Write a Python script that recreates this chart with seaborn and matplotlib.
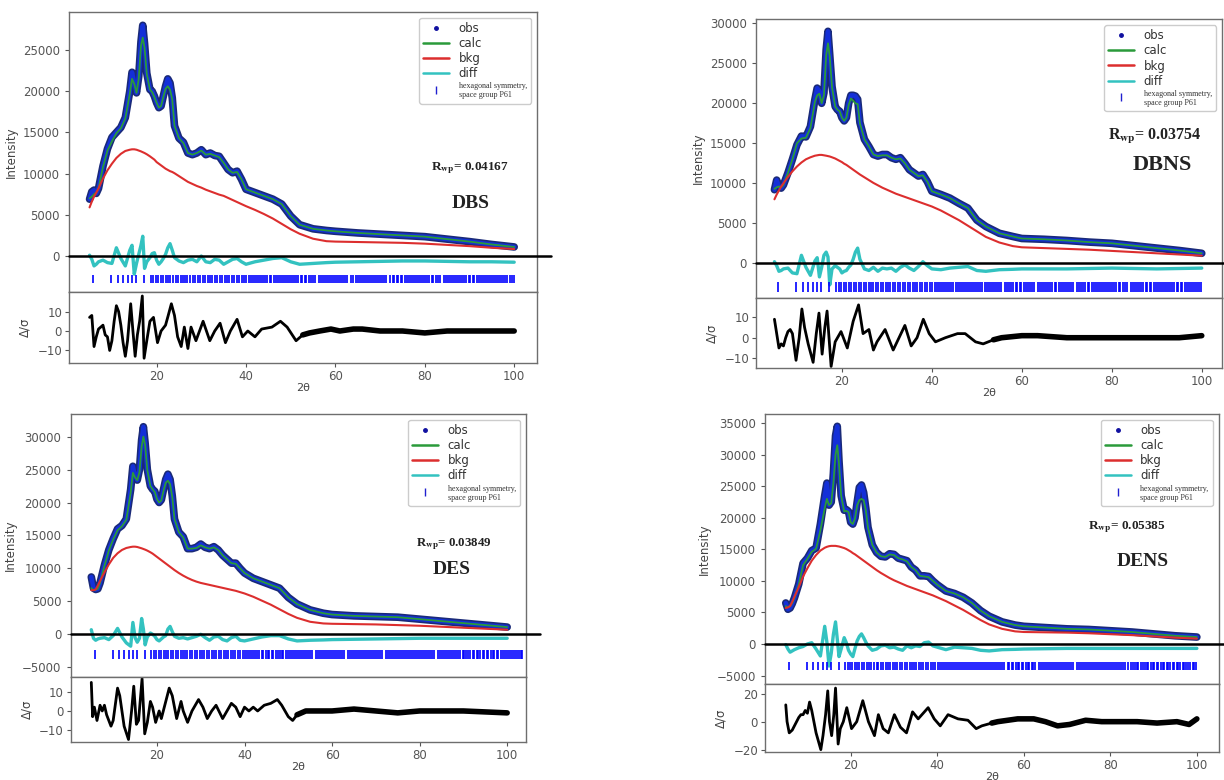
import numpy as np
import pandas as pd
import seaborn as sns
import matplotlib.pyplot as plt
from matplotlib.lines import Line2D

sns.set_style("ticks", {"axes.edgecolor": "#6e6e6e", "xtick.color": "#555555",
                        "ytick.color": "#555555", "text.color": "#333333",
                        "axes.labelcolor": "#444444"})
plt.rcParams['font.family'] = ['DejaVu Sans']
plt.rcParams['mathtext.fontset'] = 'stix'

#%%
# 2-theta grid of the pattern (shared by the four samples)
tt = [5, 5.5, 6, 6.5, 7, 8, 9, 10, 11, 12, 13, 14, 14.5, 15, 15.5, 16, 16.5, 16.9, 17.3, 17.8,
      18.5, 19, 19.5, 20, 20.5, 21, 21.5, 22, 22.5, 23, 23.5, 24, 25, 26, 27, 28, 29, 30, 31, 32,
      33, 34, 35, 36, 37, 38, 39, 40, 42, 44, 46, 48, 50, 52, 55, 58, 60, 65, 70, 75, 80, 85,
      90, 95, 100]

# DBS
dbs_obs = [6900, 7800, 8000, 7600, 8200, 10900, 13000, 14400, 15000, 15600, 16800, 20000, 22300,
           21000, 19800, 21800, 26000, 28000, 25800, 22200, 20200, 20000, 19400, 18600, 18000,
           18200, 19400, 20600, 21500, 21000, 19200, 15800, 14300, 13800, 12500, 12300, 12500,
           12900, 12300, 12500, 12200, 12100, 11300, 10500, 10100, 10300, 9300, 8100, 7700, 7300,
           6900, 6300, 4850, 3800, 3300, 3100, 3000, 2800, 2650, 2500, 2350, 2050, 1750, 1400, 1100]
dbs_calc = [7000, 7200, 7500, 7700, 8200, 10800, 12800, 13900, 14900, 15500, 16700, 19700, 21500,
            20900, 19800, 21500, 25500, 26500, 25300, 22100, 20200, 19900, 19300, 18600, 18000,
            18200, 19300, 20300, 20600, 20200, 19000, 15800, 14300, 13700, 12500, 12300, 12500,
            12800, 12300, 12400, 12200, 12000, 11300, 10500, 10100, 10200, 9300, 8100, 7700, 7300,
            6900, 6300, 4850, 3800, 3300, 3100, 3000, 2800, 2650, 2500, 2350, 2050, 1750, 1400, 1100]
dbs_bkg = [5900, 6600, 7200, 7700, 8200, 9400, 10400, 11200, 11900, 12400, 12750, 12900, 12950,
           12950, 12900, 12800, 12700, 12600, 12500, 12350, 12100, 11900, 11700, 11400, 11200,
           11000, 10800, 10600, 10450, 10300, 10200, 10050, 9700, 9350, 9000, 8750, 8500, 8300,
           8050, 7850, 7650, 7450, 7300, 7050, 6800, 6550, 6300, 6050, 5600, 5100, 4550, 3900,
           3250, 2700, 2100, 1800, 1750, 1700, 1650, 1600, 1500, 1350, 1200, 1000, 850]
dbs_diff = [100, -400, -1200, -1000, -700, -500, -800, -900, 1000, -300, -1200, 700, 1300, -2200,
            -900, 200, 1300, 2400, -1500, -700, -200, 300, 400, -500, -1000, -700, -300, 200, 1000,
            1500, 700, -200, -600, -800, -500, -400, -700, 0, -700, -800, -400, -500, -1000, -700,
            -400, -300, -700, -1000, -700, -500, -300, -200, -700, -1000, -900, -800, -750, -700,
            -650, -600, -600, -650, -700, -700, -750]
dbs_res_x = [5, 5.5, 6, 6.5, 7, 7.5, 8, 8.5, 9, 9.5, 10, 10.5, 11, 11.5, 12, 12.5, 13, 13.5, 14.2,
             14.7, 15.2, 15.7, 16.2, 16.8, 17.2, 17.8, 18.5, 19.3, 20.2, 21, 22, 22.6, 23.3, 24,
             24.7, 25.5, 26.2, 27, 27.7, 28.8, 30.4, 31.9, 33, 34.2, 35.4, 36.5, 38, 39.2, 40.4,
             42, 43.5, 45.8, 47.7, 49.2, 51.2, 52.7, 54.2, 56.5, 59, 61, 64, 66, 70, 75, 80, 85,
             90, 95, 100]
dbs_res = [7, 8, -8, -3, 1, 2, 3, -2, -3, -10, -5, 5, 13, 10, 3, -6, -13, -5, 14, 0, -13, -2, 5,
           18, -14, -5, 5, 7, -6, 0, 3, 8, 14, 8, -3, -8, 2, -9, 2, -5, 5, -5, 0, 4, -6, 0, 6, -3,
           0, -3, 1, 2, 5, 2, -5, -2, -1, 0, 1, 0, 1, 1, 0, 0, -1, 0, 0, 0, 0]

# DBNS
dbns_obs = [9200, 10400, 9600, 9400, 9800, 11300, 13000, 14800, 15900, 15800, 17100, 20500, 21900,
            21500, 20000, 21300, 26700, 29000, 26000, 22100, 19600, 19200, 19000, 18200, 17800,
            18200, 20000, 21000, 21000, 20900, 20500, 17600, 15500, 14600, 13600, 13400, 13600,
            13600, 13200, 13000, 13200, 12500, 11700, 11300, 10900, 11100, 10200, 9000, 8600, 8150,
            7500, 6900, 5400, 4600, 3750, 3350, 3100, 3000, 2850, 2650, 2500, 2200, 1900, 1600, 1250]
dbns_calc = [9300, 9500, 9600, 9500, 9800, 11300, 13000, 15000, 15600, 15700, 16900, 20200, 21000,
             21200, 20000, 21000, 26000, 27500, 25800, 22000, 19600, 19200, 19000, 18200, 17800,
             18200, 19800, 20600, 20300, 20000, 19900, 17500, 15500, 14600, 13600, 13400, 13500,
             13500, 13200, 13000, 13100, 12500, 11700, 11300, 10900, 11000, 10200, 9000, 8600, 8150,
             7500, 6900, 5400, 4600, 3750, 3350, 3100, 3000, 2850, 2650, 2500, 2200, 1900, 1600, 1250]
dbns_bkg = [8000, 8600, 9100, 9600, 10000, 10800, 11500, 12100, 12600, 13000, 13250, 13450, 13500,
            13550, 13550, 13500, 13450, 13400, 13350, 13250, 13100, 12950, 12800, 12650, 12450,
            12300, 12100, 11900, 11700, 11500, 11300, 11100, 10750, 10400, 10050, 9750, 9450, 9200,
            8950, 8700, 8500, 8300, 8100, 7900, 7700, 7500, 7300, 7100, 6600, 6000, 5400, 4700,
            4000, 3300, 2600, 2150, 2000, 1900, 1800, 1700, 1550, 1400, 1250, 1100, 950]
dbns_diff = [200, -300, -1000, -900, -700, -600, -1200, -1300, 1000, -500, -1500, 300, 700, -1700,
             -500, 1000, 1400, 800, -2700, -700, -300, -500, -700, -1200, -1000, -900, -500, -200,
             500, 1400, 1900, 500, -700, -900, -500, -1000, -600, -700, -600, -1000, -500, -200,
             -600, -900, -400, 200, -300, -700, -800, -600, -500, -400, -900, -1000, -800, -750,
             -700, -700, -700, -650, -600, -650, -700, -650, -600]
dbns_res_x = [5, 5.5, 6, 6.5, 7, 7.5, 8, 8.5, 9, 9.8, 10.5, 11.1, 11.7, 12.5, 13.6, 14.3, 14.9,
              15.6, 16.2, 16.7, 17.6, 18.5, 19.8, 21.2, 22.5, 23.7, 24.7, 26, 27, 27.8, 29.6, 31.4,
              32.7, 34, 35.4, 36.7, 38.1, 39.4, 40.8, 43, 45.7, 47.4, 49.7, 51.4, 53.7, 55.5, 60,
              63.5, 70, 75, 80, 85, 90, 95, 100]
dbns_res = [9, 2, -5, -3, -4, 0, 3, 4, 2, -11, 0, 14, 5, -3, -12, 2, 12, -8, 5, 13, -14, -2, 3,
            -5, 8, 16, 2, 4, -6, -2, 4, -6, 0, 6, -4, 0, 9, 2, -2, 0, 2, 2, -2, -3, -1, 0, 1, 1,
            0, 0, 0, 0, 0, 0, 1]

# DES
des_obs = [8700, 7000, 6800, 6900, 7800, 10500, 12800, 14500, 16000, 16500, 17500, 22000, 25500,
           24000, 23400, 25000, 29500, 31500, 29000, 25000, 22500, 22000, 21700, 20500, 20000,
           20400, 22000, 23500, 24300, 23500, 21000, 17500, 15500, 14800, 13000, 13000, 13200,
           13700, 13200, 13000, 13300, 12800, 12000, 11400, 10800, 10800, 10000, 9300, 8500, 8000,
           7500, 7000, 5600, 4600, 3700, 3200, 3000, 2800, 2700, 2600, 2300, 2000, 1700, 1400, 1100]
des_calc = [7000, 6700, 6800, 6900, 7800, 10400, 12700, 14400, 15800, 16400, 17400, 21500, 24500,
            23800, 23400, 24600, 28500, 30000, 28700, 24900, 22500, 22000, 21600, 20500, 20000,
            20300, 21800, 23000, 23300, 22800, 20800, 17500, 15500, 14700, 13000, 13000, 13100,
            13500, 13200, 13000, 13200, 12800, 12000, 11400, 10800, 10700, 10000, 9300, 8500, 8000,
            7500, 7000, 5600, 4600, 3700, 3200, 3000, 2800, 2700, 2600, 2300, 2000, 1700, 1400, 1100]
des_bkg = [6700, 6700, 6800, 7400, 8100, 9400, 10600, 11600, 12300, 12800, 13100, 13250, 13300,
           13300, 13250, 13150, 13050, 12950, 12850, 12700, 12450, 12250, 12000, 11750, 11500,
           11250, 11000, 10750, 10500, 10250, 10000, 9750, 9300, 8900, 8550, 8250, 8000, 7800,
           7650, 7500, 7350, 7200, 7050, 6900, 6750, 6600, 6400, 6200, 5700, 5100, 4500, 3800,
           3100, 2500, 1900, 1650, 1600, 1550, 1500, 1400, 1300, 1150, 1000, 850, 700]
des_diff = [700, -600, -900, -700, -600, -500, -800, -200, 900, -400, -1300, -1800, 1800, -500,
            -1200, -600, 2400, 800, -1600, -400, 200, 0, -300, -800, -1000, -700, -400, -200, 800,
            1200, 400, -300, -600, -500, -700, -500, -300, 0, -500, -900, -400, -300, -800, -1000,
            -500, -300, -900, -1000, -700, -400, -200, -200, -700, -1000, -900, -850, -800, -750,
            -700, -650, -600, -600, -600, -600, -600]
des_res_x = [5, 5.3, 5.7, 6.3, 7, 7.5, 8, 8.5, 9.5, 10, 11, 11.5, 12.5, 13.5, 14.2, 14.7, 15.3,
             15.8, 16.6, 17.2, 17.8, 18.5, 19, 19.7, 20.5, 21, 22.8, 23.5, 24.5, 25.5, 26, 27, 28,
             29.5, 30.5, 31.5, 32.5, 33.5, 35, 36, 37, 38, 39, 40, 41, 42, 43, 44.5, 46, 47.5,
             48.5, 50, 51, 52, 54, 56, 60, 65, 70, 75, 80, 90, 100]
des_res = [15, -3, 2, -5, 3, 0, 3, -2, -8, -5, 12, 8, -8, -15, 0, 13, -7, -5, 17, -12, -6, 5, 2,
           -6, 0, -4, 12, 8, -4, 5, 0, -6, 0, 6, 2, -4, 0, 3, -4, 0, 4, 2, -3, 2, 0, 2, 0, 3, 4,
           6, 3, -3, -5, -2, 0, 0, 0, 1, 0, -1, 0, 0, -1]

# DENS
dens_obs = [6500, 5500, 5700, 6400, 7300, 9500, 12800, 13600, 14800, 15200, 19000, 23500, 25500,
            22000, 22500, 27000, 33000, 34500, 29000, 23500, 21200, 21300, 21000, 19300, 19000,
            20000, 22500, 24800, 25200, 24000, 21500, 18500, 15700, 14500, 13900, 13800, 14300,
            14200, 13600, 13400, 13200, 12200, 11700, 10800, 10800, 10700, 10000, 9400, 8400, 8000,
            7400, 6500, 5300, 4400, 3500, 3000, 2800, 2600, 2400, 2300, 2100, 1900, 1600, 1300, 1100]
dens_calc = [6000, 5800, 6000, 6500, 7300, 9400, 12500, 13500, 14600, 15100, 18000, 21500, 23000,
             22000, 22300, 25500, 30000, 31500, 28500, 23500, 21000, 21100, 20900, 19300, 19000,
             19900, 22000, 22800, 23000, 22800, 21200, 18400, 15700, 14500, 13900, 13800, 14200,
             14100, 13600, 13400, 13100, 12200, 11700, 10800, 10700, 10600, 10000, 9400, 8400, 8000,
             7400, 6500, 5300, 4400, 3500, 3000, 2800, 2600, 2400, 2300, 2100, 1900, 1600, 1300, 1100]
dens_bkg = [5700, 5800, 6000, 6700, 7500, 9000, 10700, 12000, 13200, 14100, 14800, 15250, 15400,
            15500, 15550, 15550, 15550, 15500, 15450, 15350, 15200, 15050, 14850, 14650, 14400,
            14200, 13950, 13700, 13450, 13200, 12950, 12700, 12200, 11700, 11250, 10850, 10450,
            10100, 9800, 9500, 9200, 8950, 8700, 8450, 8200, 7950, 7700, 7400, 6800, 6100, 5400,
            4600, 3800, 3100, 2400, 2000, 1900, 1850, 1800, 1700, 1550, 1400, 1200, 1000, 850]
dens_diff = [-100, -800, -1300, -1100, -900, -600, -400, 0, 200, -800, -1900, 2800, 300, -3500,
             -1500, 1500, 3500, 800, -2000, -800, 1000, 200, -1000, -1600, -2000, -700, 500, 1200,
             1600, 1000, 300, -300, -1000, -800, -300, -200, -600, -500, -800, -1000, -300, -600,
             -300, -400, 200, 300, -300, -500, -900, -500, -600, -700, -1000, -1100, -900, -850,
             -800, -750, -700, -700, -700, -700, -700, -700, -700]
dens_res_x = [5, 5.3, 5.8, 6.5, 7, 8, 8.5, 9, 9.5, 10, 10.5, 11, 11.5, 12, 13.1, 13.6, 14.2, 14.7,
              15.1, 15.6, 16.1, 16.5, 17.1, 17.6, 18.3, 19.1, 20.2, 21.4, 22.8, 24.1, 25.5, 26.4,
              27.5, 28.7, 30.1, 31.5, 32.9, 34.3, 35.6, 37.9, 39.3, 40.7, 42.5, 44.8, 47.1, 49,
              50.3, 52.6, 54, 58.6, 62.3, 65, 67.8, 70.6, 74.3, 78, 81.6, 86.2, 90.8, 95.4, 98.2, 100]
dens_res = [12, 0, -8, -6, -3, 3, 5, 5, 8, 6, 14, 8, 0, -8, -20, -10, 5, 22, 0, -10, 5, 24, -16,
            -5, 0, 10, -5, 0, 15, 0, -10, 5, -5, -8, 5, -4, -8, 7, 2, 10, 2, -3, 5, 2, 1, -5, -3,
            -1, 0, 2, 2, 0, -3, -2, 1, 0, 0, 0, -1, 0, -2, 2]

# reflection positions, hexagonal P61
refl = [5.8, 9.9, 11.4, 12.5, 13.5, 14.5, 15.4, 17.2, 18.7, 19.3, 19.8, 20.4, 20.9, 21.5, 22.0,
        22.6, 23.1, 23.7, 24.3, 24.8, 25.4, 26.0, 26.4, 26.9, 27.5, 28.1, 28.6, 29.2, 29.8, 30.3,
        30.8, 31.4, 31.9, 32.5, 33.0, 33.6, 34.1, 34.7, 35.2, 35.8, 36.3, 36.8, 37.4, 37.9, 38.5,
        39.0, 39.6, 40.1, 40.6, 41.1, 41.5, 42.0, 42.5, 42.9, 43.4, 43.9, 44.3, 44.8, 45.3, 45.7,
        46.2, 46.6, 47.1, 47.6, 48.0, 48.5, 48.9, 49.4, 49.9, 50.3, 50.8, 51.2, 51.7, 52.2, 52.6,
        53.1, 53.5, 54.0, 54.5, 54.9, 55.4, 56.3, 56.7, 57.2, 57.6, 58.1, 58.6, 59.0, 59.5, 59.9,
        60.4, 60.9, 61.3, 61.8, 62.2, 62.7, 63.6, 64.0, 64.5, 65.0, 65.4, 65.9, 66.3, 66.8, 67.3,
        67.7, 68.2, 68.6, 69.1, 69.6, 70.0, 70.5, 70.9, 71.4, 72.3, 72.8, 73.2, 73.7, 74.1, 74.6,
        75.0, 75.5, 76.0, 76.4, 76.9, 77.3, 77.8, 78.3, 78.7, 79.2, 79.6, 80.1, 80.6, 81.0, 81.5,
        81.9, 82.4, 82.9, 83.3, 84.2, 84.7, 85.2, 85.6, 86.1, 86.5, 87.0, 87.5, 87.9, 88.4, 88.8,
        89.3, 89.8, 90.2, 90.7, 91.1, 91.6, 92.1, 92.5, 93.0, 93.4, 93.9, 94.4, 94.8, 95.3, 95.7,
        96.2, 96.7, 97.1, 97.6, 98.0, 98.5, 99.0, 99.4, 99.9]
refl_des_extra = [100.4, 100.8, 101.3, 101.7, 102.2, 102.6, 103.1, 103.5]

samples = ['DBS', 'DBNS', 'DES', 'DENS']
rwp = ['0.04167', '0.03754', '0.03849', '0.05385']

#%%
W, H = 1224, 780

# layout in pixels of the source picture
layout = {
    'DBS':  dict(x=(69, 537), main=(11.7, 291.7), res=(291.7, 362.7), xlim=(0.4, 105.1),
                 ylim=(-4330, 29650), rlim=(-16.3, 20.2), yt=[0, 5000, 10000, 15000, 20000, 25000],
                 rt=[-10, 0, 10], tick=(-3300, -2300), rwp_xy=(470, 168), name_xy=(471, 204),
                 rwp_fs=9.5, name_fs=14),
    'DBNS': dict(x=(756, 1222), main=(19.3, 297.7), res=(297.7, 368.3), xlim=(0.9, 104.5),
                 ylim=(-4300, 30500), rlim=(-14.9, 19.5),
                 yt=[0, 5000, 10000, 15000, 20000, 25000, 30000], rt=[-10, 0, 10],
                 tick=(-3550, -2300), rwp_xy=(1155, 137), name_xy=(1162, 165),
                 rwp_fs=11.5, name_fs=16),
    'DES':  dict(x=(70.5, 526), main=(414, 676.7), res=(676.7, 742), xlim=(0.25, 104.3),
                 ylim=(-6430, 33430), rlim=(-16.3, 18),
                 yt=[-5000, 0, 5000, 10000, 15000, 20000, 25000, 30000], rt=[-10, 0, 10],
                 tick=(-3700, -2400), rwp_xy=(454, 544), name_xy=(452, 570),
                 rwp_fs=9.3, name_fs=14),
    'DENS': dict(x=(765, 1218.5), main=(414, 684.3), res=(684.3, 752.3), xlim=(0.2, 105),
                 ylim=(-6390, 36450), rlim=(-21.9, 26.7),
                 yt=[-5000, 0, 5000, 10000, 15000, 20000, 25000, 30000, 35000], rt=[-20, 0, 20],
                 tick=(-4050, -2800), rwp_xy=(1127, 527), name_xy=(1143, 561),
                 rwp_fs=9.5, name_fs=14),
}

data = {
    'DBS': (dbs_obs, dbs_calc, dbs_bkg, dbs_diff, dbs_res_x, dbs_res),
    'DBNS': (dbns_obs, dbns_calc, dbns_bkg, dbns_diff, dbns_res_x, dbns_res),
    'DES': (des_obs, des_calc, des_bkg, des_diff, des_res_x, des_res),
    'DENS': (dens_obs, dens_calc, dens_bkg, dens_diff, dens_res_x, dens_res),
}

c_obs = '#1430d8'
c_obs_dark = '#1a2a78'
c_calc = '#2a9a3a'
c_bkg = '#dc2e2e'
c_diff = '#33c2c0'


def box(x, y):
    return [x[0] / W, 1 - y[1] / H, (x[1] - x[0]) / W, (y[1] - y[0]) / H]


fig = plt.figure(figsize=(W / 100, H / 100), dpi=100)

for name, r in zip(samples, rwp):
    L = layout[name]
    obs, calc, bkg, diff, rx, res = data[name]
    df = pd.DataFrame({'tt': tt, 'obs': obs, 'calc': calc, 'bkg': bkg, 'diff': diff})
    dr = pd.DataFrame({'tt': rx, 'res': res})

    ax = fig.add_axes(box(L['x'], L['main']))
    axr = fig.add_axes(box(L['x'], L['res']))

    sns.lineplot(data=df, x='tt', y='obs', ax=ax, color=c_obs_dark, lw=5.5, estimator=None)
    sns.lineplot(data=df, x='tt', y='obs', ax=ax, color=c_obs, lw=3.2, estimator=None)
    sns.lineplot(data=df, x='tt', y='calc', ax=ax, color=c_calc, lw=1.3, estimator=None)
    sns.lineplot(data=df, x='tt', y='bkg', ax=ax, color=c_bkg, lw=1.5, estimator=None)
    sns.lineplot(data=df, x='tt', y='diff', ax=ax, color=c_diff, lw=2.4, estimator=None)
    ax.axhline(0, xmin=0, xmax=1.03, color='black', lw=1.8, clip_on=False, zorder=5)

    pos = refl + (refl_des_extra if name == 'DES' else [])
    ax.vlines(pos, L['tick'][0], L['tick'][1], color='#0000ff', lw=1.2)

    ax.set_xlim(*L['xlim'])
    ax.set_ylim(*L['ylim'])
    ax.set_yticks(L['yt'])
    ax.set_xticks([20, 40, 60, 80, 100])
    ax.tick_params(labelbottom=False, labelsize=8.5, length=3)
    ax.set_xlabel('')
    ax.set_ylabel('Intensity', fontsize=8.5)

    handles = [Line2D([], [], ls='none', marker='.', ms=5, color='#1010a0'),
               Line2D([], [], color=c_calc, lw=1.8),
               Line2D([], [], color=c_bkg, lw=1.8),
               Line2D([], [], color=c_diff, lw=1.8),
               Line2D([], [], ls='none', marker='|', ms=6, color='#2020d0')]
    labels = ['obs', 'calc', 'bkg', 'diff', 'hexagonal symmetry,\nspace group P61']
    leg = ax.legend(handles, labels, loc='upper right', fontsize=8.5, handlelength=2.2,
                    labelspacing=0.18, borderpad=0.35, framealpha=1, edgecolor='#cccccc')
    leg.get_texts()[-1].set_fontfamily('Liberation Serif')
    leg.get_texts()[-1].set_fontsize(5.8)

    # residual panel
    sns.lineplot(data=dr, x='tt', y='res', ax=axr, color='black', lw=2.0, estimator=None)
    sns.lineplot(data=dr[dr.tt >= 52], x='tt', y='res', ax=axr, color='black', lw=4.0,
                 estimator=None)
    axr.set_xlim(*L['xlim'])
    axr.set_ylim(*L['rlim'])
    axr.set_yticks(L['rt'])
    axr.set_xticks([20, 40, 60, 80, 100])
    axr.tick_params(labelsize=8.5, length=3, pad=2)
    axr.set_xlabel('2θ', fontsize=8, labelpad=0)
    axr.set_ylabel('Δ/σ', fontsize=8.5)

    for a in (ax, axr):
        for s in a.spines.values():
            s.set_linewidth(1.0)

    fig.text(L['rwp_xy'][0] / W, 1 - L['rwp_xy'][1] / H, r'R$_{\mathbf{wp}}$= ' + r,
             family='Liberation Serif', weight='bold', fontsize=L['rwp_fs'],
             ha='center', va='center', color='#222222')
    fig.text(L['name_xy'][0] / W, 1 - L['name_xy'][1] / H, name,
             family='Liberation Serif', weight='bold', fontsize=L['name_fs'],
             ha='center', va='center', color='#222222')

plt.savefig('out.png', dpi=100)
